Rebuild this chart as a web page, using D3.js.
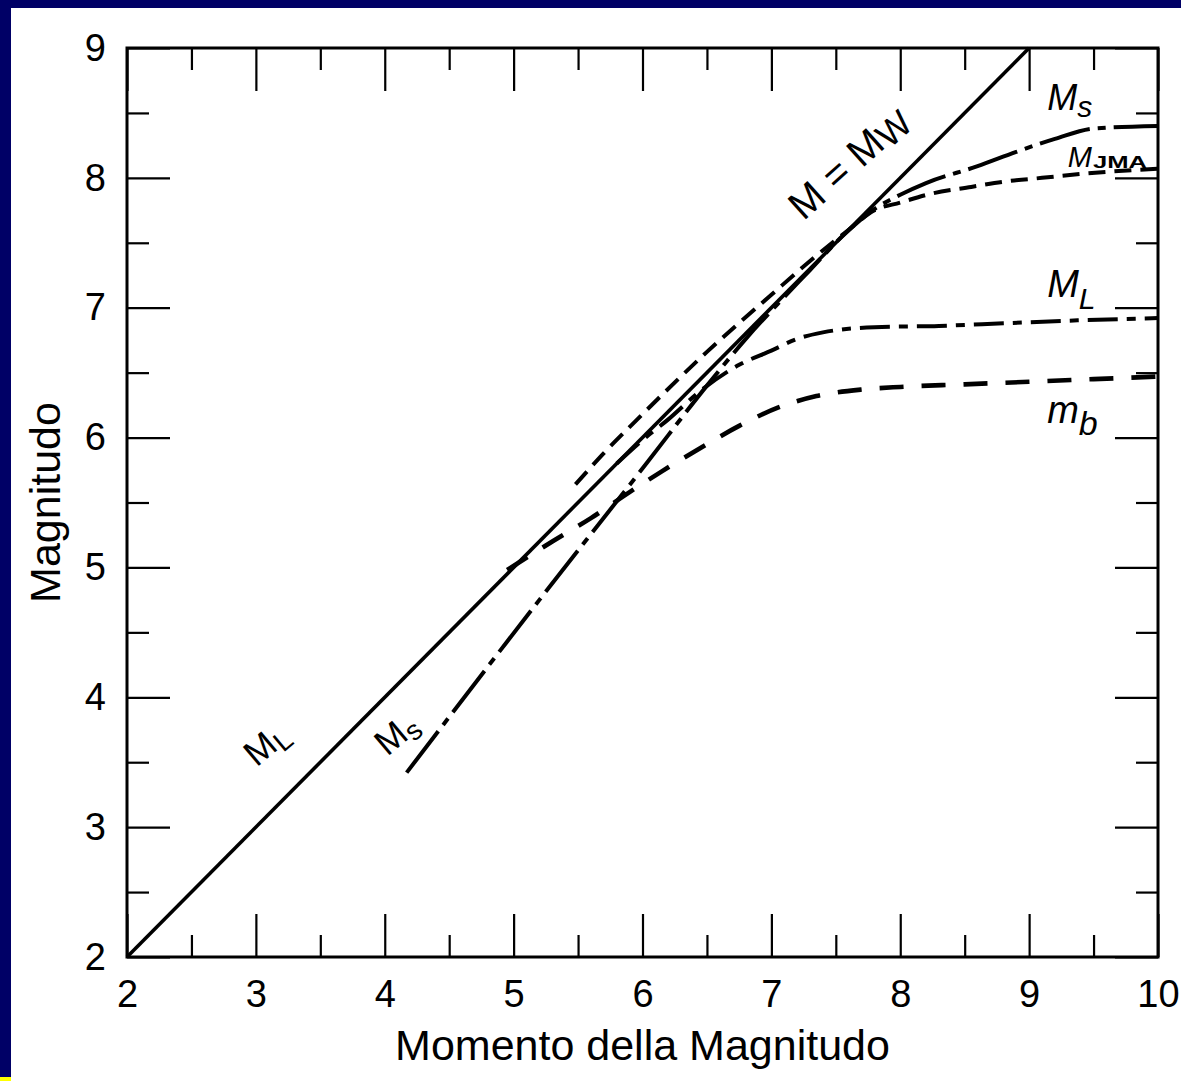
<!DOCTYPE html>
<html>
<head>
<meta charset="utf-8">
<script src="https://cdn.jsdelivr.net/npm/d3@7"></script>
<style>
  html, body { margin: 0; padding: 0; background: #fff; }
  svg { display: block; }
  text { font-family: "Liberation Sans", Arial, Helvetica, sans-serif; fill: #000; }
</style>
</head>
<body>
<svg id="chart" width="1181" height="1081"></svg>
<script>
// Axis ticks
const xTicks = [2, 3, 4, 5, 6, 7, 8, 9, 10];
const xMinor = [2.5, 3.5, 4.5, 5.5, 6.5, 7.5, 8.5, 9.5];
const yTicks = [2, 3, 4, 5, 6, 7, 8, 9];
const yMinor = [2.5, 3.5, 4.5, 5.5, 6.5, 7.5, 8.5];

// M = Mw reference line
const mwX = [2, 9];
const mwY = [2, 9];

// Surface-wave magnitude Ms
const msX = [4.17, 5.2, 6.03, 6.5, 6.81, 7.05, 7.3, 7.55, 7.8, 8.0, 8.2, 8.6, 8.9, 9.2, 9.5, 10];
const msY = [3.42, 4.75, 5.80, 6.40, 6.77, 7.03, 7.29, 7.55, 7.76, 7.87, 7.96, 8.09, 8.20, 8.30, 8.38, 8.40];

// JMA magnitude
const jmaX = [5.48, 5.7, 6.0, 6.5, 7.0, 7.3, 7.6, 7.8, 8.0, 8.25, 8.55, 8.8, 9.1, 9.4, 10];
const jmaY = [5.64, 5.88, 6.18, 6.66, 7.10, 7.36, 7.60, 7.75, 7.81, 7.88, 7.93, 7.97, 8.00, 8.03, 8.07];

// Local magnitude ML (coincides with Mw below ~5.8)
const mlX = [5.8, 6.0, 6.2, 6.45, 6.75, 7.0, 7.2, 7.4, 7.8, 8.3, 8.8, 9.3, 10];
const mlY = [5.80, 5.98, 6.14, 6.36, 6.56, 6.67, 6.76, 6.81, 6.85, 6.86, 6.88, 6.90, 6.92];

// Body-wave magnitude mb
const mbX = [4.95, 5.3, 5.6, 5.9, 6.15, 6.45, 6.75, 7.05, 7.35, 7.7, 8.0, 8.5, 9.0, 9.5, 10];
const mbY = [4.98, 5.20, 5.38, 5.58, 5.74, 5.92, 6.09, 6.23, 6.32, 6.37, 6.39, 6.41, 6.43, 6.45, 6.47];

const svg = d3.select("#chart");
const W = 1181, H = 1081;

// slide background with white panel
svg.append("rect").attr("width", W).attr("height", H).attr("fill", "#000066");
svg.append("rect").attr("x", 11).attr("y", 8).attr("width", W - 11).attr("height", H - 8).attr("fill", "#fff");
svg.append("rect").attr("x", 0).attr("y", 1077).attr("width", 11).attr("height", 4).attr("fill", "#ffff00");

const x = d3.scaleLinear().domain([2, 10]).range([127, 1158]);
const y = d3.scaleLinear().domain([2, 9]).range([957, 48]);

const g = svg.append("g");

function styleAxis(sel, fontSize) {
  sel.select(".domain").remove();
  sel.selectAll(".tick line").attr("stroke", "#000").attr("stroke-width", 2.2);
  sel.selectAll(".tick text")
    .attr("font-size", fontSize)
    .attr("font-family", "'Liberation Sans', Arial, Helvetica, sans-serif")
    .attr("fill", "#000");
  sel.attr("font-size", null).attr("font-family", null);
}

const MAJ = -43, MIN = -22;

// bottom axis
g.append("g").attr("transform", `translate(0,${y(2)})`)
  .call(d3.axisBottom(x).tickValues(xTicks).tickSizeInner(MAJ).tickSizeOuter(0).tickPadding(23).tickFormat(d3.format("d")))
  .call(s => styleAxis(s, 38));
g.append("g").attr("transform", `translate(0,${y(2)})`)
  .call(d3.axisBottom(x).tickValues(xMinor).tickSizeInner(MIN).tickSizeOuter(0).tickFormat(""))
  .call(s => styleAxis(s, 38));

// top axis
g.append("g").attr("transform", `translate(0,${y(9)})`)
  .call(d3.axisTop(x).tickValues(xTicks).tickSizeInner(MAJ).tickSizeOuter(0).tickFormat(""))
  .call(s => styleAxis(s, 38));
g.append("g").attr("transform", `translate(0,${y(9)})`)
  .call(d3.axisTop(x).tickValues(xMinor).tickSizeInner(MIN).tickSizeOuter(0).tickFormat(""))
  .call(s => styleAxis(s, 38));

// left axis
g.append("g").attr("transform", `translate(${x(2)},0)`)
  .call(d3.axisLeft(y).tickValues(yTicks).tickSizeInner(MAJ).tickSizeOuter(0).tickPadding(21).tickFormat(d3.format("d")))
  .call(s => styleAxis(s, 38));
g.append("g").attr("transform", `translate(${x(2)},0)`)
  .call(d3.axisLeft(y).tickValues(yMinor).tickSizeInner(MIN).tickSizeOuter(0).tickFormat(""))
  .call(s => styleAxis(s, 38));

// right axis
g.append("g").attr("transform", `translate(${x(10)},0)`)
  .call(d3.axisRight(y).tickValues(yTicks).tickSizeInner(MAJ).tickSizeOuter(0).tickFormat(""))
  .call(s => styleAxis(s, 38));
g.append("g").attr("transform", `translate(${x(10)},0)`)
  .call(d3.axisRight(y).tickValues(yMinor).tickSizeInner(MIN).tickSizeOuter(0).tickFormat(""))
  .call(s => styleAxis(s, 38));

// plot frame
g.append("rect")
  .attr("x", x(2)).attr("y", y(9))
  .attr("width", x(10) - x(2)).attr("height", y(2) - y(9))
  .attr("fill", "none").attr("stroke", "#000").attr("stroke-width", 3);

// curves
const line = d3.line().x(d => x(d[0])).y(d => y(d[1])).curve(d3.curveMonotoneX);
const zip = (a, b) => a.map((v, i) => [v, b[i]]);

const series = [
  { xs: mwX, ys: mwY, dash: null, w: 3.6 },
  { xs: mlX, ys: mlY, dash: "30,9,9,9", w: 4 },
  { xs: mbX, ys: mbY, dash: "24,18", w: 4.6 },
  { xs: jmaX, ys: jmaY, dash: "17,9", w: 4 },
  { xs: msX, ys: msY, dash: "52,8,8,8", w: 4 }
];
g.selectAll("path.curve").data(series).join("path")
  .attr("class", "curve")
  .attr("d", d => line(zip(d.xs, d.ys)))
  .attr("fill", "none")
  .attr("stroke", "#000")
  .attr("stroke-width", d => d.w)
  .attr("stroke-dasharray", d => d.dash);

// axis titles
g.append("text")
  .attr("x", (x(2) + x(10)) / 2).attr("y", 1060)
  .attr("text-anchor", "middle").attr("font-size", 43)
  .text("Momento della Magnitudo");
g.append("text")
  .attr("transform", `translate(60,${(y(2) + y(9)) / 2}) rotate(-90)`)
  .attr("text-anchor", "middle").attr("font-size", 43)
  .text("Magnitudo");

// curve labels
function subLabel(px, py, main, sub, o) {
  const t = g.append("text")
    .attr("transform", `translate(${px},${py})` + (o.rot ? ` rotate(${o.rot})` : ""))
    .attr("text-anchor", o.anchor || "start")
    .attr("font-size", o.size);
  t.append("tspan").attr("font-style", o.italic ? "italic" : "normal").text(main);
  t.append("tspan")
    .attr("font-size", o.subSize)
    .attr("font-style", o.subItalic ? "italic" : "normal")
    .attr("font-weight", o.subBold ? "bold" : "normal")
    .attr("dx", o.subDx || 0)
    .attr("dy", o.subDy)
    .text(sub);
  return t;
}

subLabel(x(7.67), y(8.04), "M = M", "W", { rot: -42, anchor: "middle", size: 40, subSize: 36, subDy: 4 });
subLabel(x(9.14), y(8.52), "M", "s", { size: 36, italic: true, subSize: 30, subItalic: true, subDy: 7 });
const jma = subLabel(x(9.30), y(8.08), "M", "JMA", { size: 29, italic: true, subSize: 16, subBold: true, subDy: 1, subDx: 1 });
jma.select("tspan:last-child").attr("textLength", 54).attr("lengthAdjust", "spacingAndGlyphs");
subLabel(x(9.14), y(7.08), "M", "L", { size: 38, italic: true, subSize: 30, subItalic: true, subDy: 12 });
subLabel(x(9.14), y(6.11), "m", "b", { size: 38, italic: true, subSize: 34, subItalic: true, subDy: 12 });
subLabel(x(3.14), y(3.57), "M", "L", { rot: -40, anchor: "middle", size: 36, subSize: 28, subDy: 6 });
subLabel(x(4.15), y(3.65), "M", "s", { rot: -40, anchor: "middle", size: 36, subSize: 28, subDy: 6 });
</script>
</body>
</html>
